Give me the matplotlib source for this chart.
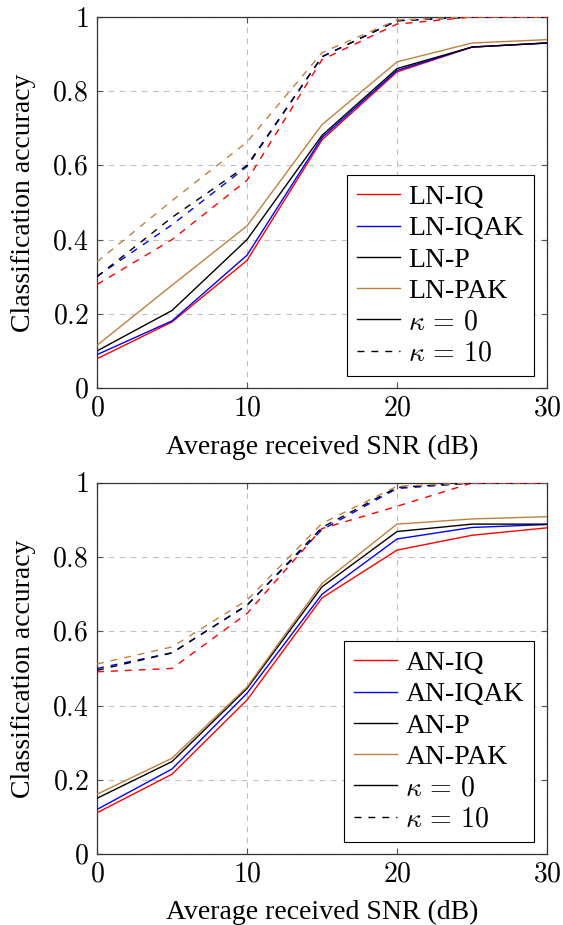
import matplotlib as mpl

mpl.use("Agg")
import matplotlib.pyplot as plt
from matplotlib.lines import Line2D

plt.rcParams["font.family"] = ["Liberation Serif", "DejaVu Serif"]
plt.rcParams["mathtext.fontset"] = "cm"

snr = [0, 5, 10, 15, 20, 25, 30]

# top panel: LN, kappa = 0
ln_iq_k0 = [0.079, 0.178, 0.344, 0.669, 0.852, 0.919, 0.930]
ln_iqak_k0 = [0.090, 0.181, 0.358, 0.675, 0.856, 0.919, 0.930]
ln_p_k0 = [0.100, 0.209, 0.400, 0.681, 0.861, 0.919, 0.930]
ln_pak_k0 = [0.115, 0.277, 0.437, 0.710, 0.879, 0.930, 0.939]
# top panel: LN, kappa = 10
ln_iq_k10 = [0.279, 0.400, 0.560, 0.885, 0.981, 1.0, 1.0]
ln_iqak_k10 = [0.301, 0.440, 0.597, 0.893, 0.990, 1.0, 1.0]
ln_p_k10 = [0.300, 0.460, 0.600, 0.893, 0.990, 1.0, 1.0]
ln_pak_k10 = [0.340, 0.505, 0.663, 0.904, 0.992, 1.0, 1.0]

# bottom panel: AN, kappa = 0
an_iq_k0 = [0.111, 0.215, 0.415, 0.690, 0.819, 0.859, 0.879]
an_iqak_k0 = [0.120, 0.229, 0.433, 0.700, 0.849, 0.880, 0.888]
an_p_k0 = [0.150, 0.249, 0.446, 0.720, 0.869, 0.889, 0.889]
an_pak_k0 = [0.161, 0.258, 0.450, 0.729, 0.889, 0.903, 0.909]
# bottom panel: AN, kappa = 10
an_iq_k10 = [0.491, 0.500, 0.648, 0.877, 0.937, 1.0, 1.0]
an_iqak_k10 = [0.500, 0.542, 0.671, 0.874, 0.985, 1.0, 1.0]
an_p_k10 = [0.495, 0.542, 0.670, 0.880, 0.988, 1.0, 1.0]
an_pak_k10 = [0.512, 0.558, 0.684, 0.891, 0.991, 1.0, 1.0]

COLORS = ["#ff0000", "#0000ff", "#000000", "#bf8040"]
YTICKS = [0, 0.2, 0.4, 0.6, 0.8, 1.0]
YTICKLABELS = ["$0$", "$0.2$", "$0.4$", "$0.6$", "$0.8$", "$1$"]
XTICKS = [0, 10, 20, 30]
FS = 20


def draw_panel(ax, prefix, k0, k10):
    for ys, c in zip(k10, COLORS):
        ax.plot(snr, ys, color=c, lw=1.0, dashes=(5, 5), zorder=3)
    for ys, c in zip(k0, COLORS):
        ax.plot(snr, ys, color=c, lw=1.0, zorder=3)

    ax.set_xlim(0, 30)
    ax.set_ylim(0, 1)
    ax.set_xticks(XTICKS)
    ax.set_xticklabels([f"${t}$" for t in XTICKS])
    ax.set_yticks(YTICKS)
    ax.set_yticklabels(YTICKLABELS)
    ax.tick_params(direction="in", top=True, right=True, length=4, width=0.8,
                   color="#555555", labelsize=FS, pad=6)
    ax.grid(True, color="#c0c0c0", lw=0.8, dashes=(5, 5), zorder=0)
    for sp in ax.spines.values():
        sp.set_linewidth(0.9)
        sp.set_color("#333333")

    ax.set_ylabel("Classification accuracy", fontsize=FS)
    ax.set_xlabel("Average received SNR (dB)", fontsize=FS)
    ax.yaxis.set_label_coords(-0.135, 0.5)
    ax.xaxis.set_label_coords(0.5, -0.125)

    names = ["IQ", "IQAK", "P", "PAK"]
    handles = [Line2D([], [], color=c, lw=1.0) for c in COLORS]
    handles.append(Line2D([], [], color="black", lw=1.0))
    handles.append(Line2D([], [], color="black", lw=1.0, dashes=(5, 5)))
    labels = [f"{prefix}-{n}" for n in names] + [r"$\kappa\,=\,0$", r"$\kappa\,=\,10$"]
    leg = ax.legend(handles, labels, loc="lower right", bbox_to_anchor=(0.97, 0.032),
                    borderaxespad=0, fontsize=FS, frameon=True, fancybox=False,
                    edgecolor="black", framealpha=1, handlelength=1.55,
                    handletextpad=0.3, labelspacing=0.21, borderpad=0.35)
    leg.get_frame().set_linewidth(0.8)


fig = plt.figure(figsize=(5.63, 9.25), dpi=100)
ax1 = fig.add_axes([0.1723, 0.5805, 0.7993, 0.4011])
ax2 = fig.add_axes([0.1723, 0.0768, 0.7993, 0.4011])

draw_panel(ax1, "LN", [ln_iq_k0, ln_iqak_k0, ln_p_k0, ln_pak_k0],
           [ln_iq_k10, ln_iqak_k10, ln_p_k10, ln_pak_k10])
draw_panel(ax2, "AN", [an_iq_k0, an_iqak_k0, an_p_k0, an_pak_k0],
           [an_iq_k10, an_iqak_k10, an_p_k10, an_pak_k10])

fig.savefig("out.png", dpi=100)
